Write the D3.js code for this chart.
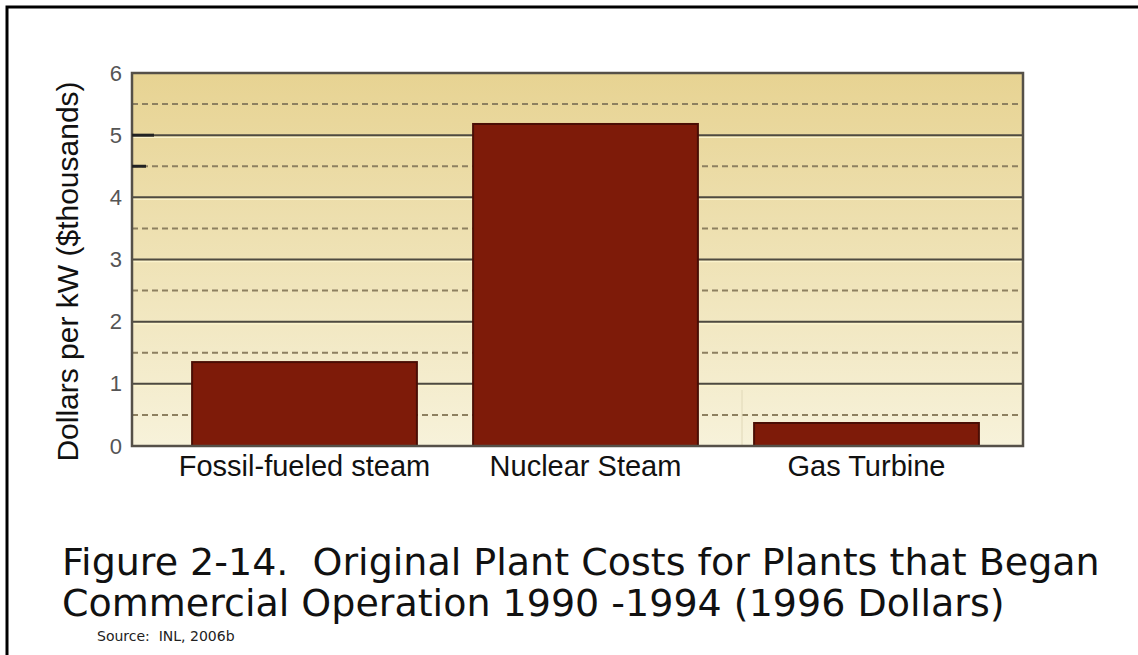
<!DOCTYPE html>
<html><head><meta charset="utf-8">
<script src="https://cdn.jsdelivr.net/npm/d3@7"></script>
<style>body{margin:0;background:#fff}</style>
</head><body>
<svg id="c" width="1138" height="655"></svg>
<script>
const categories = ["Fossil-fueled steam", "Nuclear Steam", "Gas Turbine"];
const values = [1.35, 5.18, 0.37];
const yTicks = [0, 1, 2, 3, 4, 5, 6];
const halfTicks = [0.5, 1.5, 2.5, 3.5, 4.5, 5.5];
const yTitle = "Dollars per kW ($thousands)";
const titleLines = ["Figure 2-14.  Original Plant Costs for Plants that Began", "Commercial Operation 1990 -1994 (1996 Dollars)"];
const sourceText = "Source:  INL, 2006b";

const svg = d3.select("#c");
const L = 132, R = 1023, T = 73, B = 446;
const y = d3.scaleLinear().domain([0, 6]).range([B, T]);
const x = d3.scaleBand().domain(categories).range([164, 1007]).paddingInner(0.2).paddingOuter(0.1);

// frame
svg.append("rect").attr("x", 7).attr("y", 7).attr("width", 1200).attr("height", 700)
  .attr("fill", "none").attr("stroke", "#000").attr("stroke-width", 3);

const defs = svg.append("defs");
const g = defs.append("linearGradient").attr("id", "bg").attr("x1", 0).attr("y1", 0).attr("x2", 0).attr("y2", 1);
g.append("stop").attr("offset", "0%").attr("stop-color", "#e7d392");
g.append("stop").attr("offset", "100%").attr("stop-color", "#f7f2da");

svg.append("rect").attr("x", L).attr("y", T).attr("width", R - L).attr("height", B - T).attr("fill", "url(#bg)");

// dashed half gridlines
svg.append("g").selectAll("line").data(halfTicks).join("line")
  .attr("x1", L).attr("x2", R).attr("y1", d => y(d)).attr("y2", d => y(d))
  .attr("stroke", "#8d8060").attr("stroke-width", 2).attr("stroke-dasharray", "6,4");
// solid gridlines
const sg = svg.append("g");
sg.selectAll("line.h").data(yTicks.filter(d => d > 0 && d < 6)).join("line").attr("class", "h")
  .attr("x1", L).attr("x2", R).attr("y1", d => y(d) + 2).attr("y2", d => y(d) + 2)
  .attr("stroke", "#fbf3cc").attr("stroke-width", 1.5);
sg.selectAll("line.g").data(yTicks.filter(d => d > 0 && d < 6)).join("line").attr("class", "g")
  .attr("x1", L).attr("x2", R).attr("y1", d => y(d)).attr("y2", d => y(d))
  .attr("stroke", "#4e4a40").attr("stroke-width", 2);
// faint vertical line
svg.append("line").attr("x1", 742).attr("x2", 742).attr("y1", y(0.9)).attr("y2", B)
  .attr("stroke", "#e0d8b8").attr("stroke-width", 1);

// bars
svg.append("g").selectAll("rect").data(categories).join("rect")
  .attr("x", d => x(d)).attr("width", x.bandwidth())
  .attr("y", (d, i) => y(values[i])).attr("height", (d, i) => B - y(values[i]))
  .attr("fill", "#7e1b09").attr("stroke", "#4a0e05").attr("stroke-width", 2);

// plot border
svg.append("rect").attr("x", L).attr("y", T).attr("width", R - L).attr("height", B - T)
  .attr("fill", "none").attr("stroke", "#555048").attr("stroke-width", 2.5);
// small tick stubs
svg.append("g").selectAll("line").data([5, 4.5]).join("line")
  .attr("x1", L).attr("x2", (d, i) => L + (i ? 14 : 22)).attr("y1", d => y(d)).attr("y2", d => y(d))
  .attr("stroke", "#222").attr("stroke-width", 3);

// y axis labels
const yAxis = d3.axisLeft(y).tickValues(yTicks).tickSize(0).tickPadding(10).tickFormat(d3.format("d"));
const ya = svg.append("g").attr("transform", `translate(${L},0)`).call(yAxis);
ya.select(".domain").remove();
ya.selectAll("text").attr("font-family", "Liberation Sans, Arial, sans-serif").attr("font-size", 22).attr("fill", "#555");

// x axis labels
const xAxis = d3.axisBottom(x).tickSize(0).tickPadding(9);
const xa = svg.append("g").attr("transform", `translate(0,${B})`).call(xAxis);
xa.select(".domain").remove();
xa.selectAll("text").attr("font-family", "Liberation Sans, Arial, sans-serif").attr("font-size", 29).attr("fill", "#111");

// y title
svg.append("text").attr("transform", `translate(78,${(T + B) / 2 + 12}) rotate(-90)`)
  .attr("text-anchor", "middle").attr("font-family", "Liberation Sans, Arial, sans-serif")
  .attr("font-size", 30).attr("fill", "#111").text(yTitle);

// title
svg.append("g").selectAll("text").data(titleLines).join("text")
  .attr("x", 62).attr("y", (d, i) => 575 + i * 41)
  .attr("font-family", "DejaVu Sans, Verdana, sans-serif").attr("font-size", 38).attr("fill", "#111")
  .style("white-space", "pre").text(d => d);

svg.append("text").attr("x", 97).attr("y", 641)
  .attr("font-family", "DejaVu Sans, Verdana, sans-serif").attr("font-size", 14).attr("fill", "#222")
  .style("white-space", "pre").text(sourceText);
</script>
</body></html>
